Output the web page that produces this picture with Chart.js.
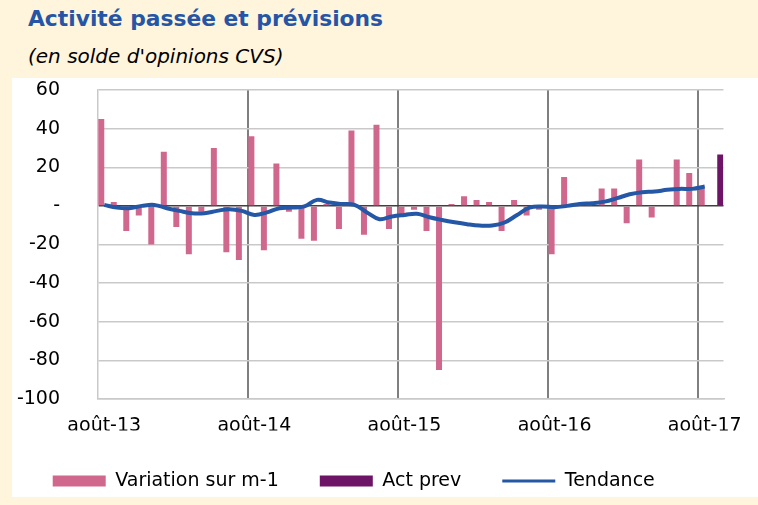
<!DOCTYPE html>
<html>
<head>
<meta charset="utf-8">
<script src="https://cdn.jsdelivr.net/npm/chart.js@4.4.1/dist/chart.umd.min.js"></script>
<style>
  html, body { margin: 0; padding: 0; }
  body { width: 758px; height: 505px; background: #FFF5DC; position: relative; overflow: hidden; font-family: 'DejaVu Sans', sans-serif; }
  #title { position: absolute; left: 28px; top: 8px; font-size: 21.8px; line-height: 1; font-weight: bold; color: #2655A5; white-space: nowrap; }
  #subtitle { position: absolute; left: 28px; top: 46px; font-size: 20px; line-height: 1; font-style: italic; color: #000; white-space: nowrap; }
  #panel { position: absolute; left: 12px; top: 78px; width: 746px; height: 419px; background: #FFFFFF; }
  #c { position: absolute; left: 0; top: 0; }
</style>
</head>
<body>
<div id="title">Activité passée et prévisions</div>
<div id="subtitle">(en solde d'opinions CVS)</div>
<div id="panel"></div>
<canvas id="c" width="758" height="505"></canvas>
<script>
const categories = [
  'août-13','sept-13','oct-13','nov-13','déc-13','janv-14','févr-14','mars-14','avr-14','mai-14','juin-14','juil-14',
  'août-14','sept-14','oct-14','nov-14','déc-14','janv-15','févr-15','mars-15','avr-15','mai-15','juin-15','juil-15',
  'août-15','sept-15','oct-15','nov-15','déc-15','janv-16','févr-16','mars-16','avr-16','mai-16','juin-16','juil-16',
  'août-16','sept-16','oct-16','nov-16','déc-16','janv-17','févr-17','mars-17','avr-17','mai-17','juin-17','juil-17',
  'août-17','sept-17'
];

const variation = [
  45, 2, -13, -5, -20, 28, -11, -25, -3, 30, -24, -28,
  36, -23, 22, -3, -17, -18, 1, -12, 39, -15, 42, -12,
  -5, -2, -13, -85, 1, 5, 3, 2, -13, 3, -5, -2,
  -25, 15, 1, 1, 9, 9, -9, 24, -6, 0, 24, 17,
  9, null
];

const actPrev = [
  null, null, null, null, null, null, null, null, null, null, null, null,
  null, null, null, null, null, null, null, null, null, null, null, null,
  null, null, null, null, null, null, null, null, null, null, null, null,
  null, null, null, null, null, null, null, null, null, null, null, null,
  null, 26.6
];

const tendance = [
  0.5, -0.9, -1.2, 0, 0.5, -1.2, -2.6, -3.8, -3.8, -2.6, -1.7, -2.6,
  -4.7, -3.4, -1.2, -0.9, -0.3, 3.1, 1.7, 1, 0.5, -3.4, -6.9, -5.5,
  -4.7, -4.1, -5.9, -7.3, -8.5, -9.5, -10.2, -10.2, -8.6, -4.7, -0.9, -0.3,
  -0.7, 0, 1, 1.4, 2.2, 4, 6, 7.1, 7.4, 8.3, 8.8, 8.8,
  10, null
];

const yTicks = [60, 40, 20, 0, -20, -40, -60, -80, -100];
const seriesNames = ['Variation sur m-1', 'Act prev', 'Tendance'];

Chart.defaults.font.family = "'DejaVu Sans', sans-serif";
Chart.defaults.font.size = 19;
Chart.defaults.color = '#000000';

const PINK = '#D0688E';
const PURPLE = '#6E1466';
const BLUE = '#2457A6';

new Chart(document.getElementById('c'), {
  type: 'bar',
  data: {
    labels: categories,
    datasets: [
      { type: 'bar', label: seriesNames[0], data: variation, backgroundColor: PINK, borderWidth: 0,
        categoryPercentage: 0.96, barPercentage: 1.0, order: 2 },
      { type: 'bar', label: seriesNames[1], data: actPrev, backgroundColor: PURPLE, borderWidth: 0,
        categoryPercentage: 0.96, barPercentage: 1.0, order: 3 },
      { type: 'line', label: seriesNames[2], data: tendance, borderColor: BLUE, backgroundColor: BLUE,
        borderWidth: 4, pointRadius: 0, tension: 0.4, fill: false, order: 1 }
    ]
  },
  options: {
    responsive: false,
    animation: false,
    devicePixelRatio: 1,
    layout: { padding: { left: -16, right: 34.5, top: 90, bottom: 4.5 } },
    plugins: {
      tooltip: { enabled: false },
      title: { display: false },
      legend: {
        position: 'bottom',
        labels: {
          usePointStyle: true,
          pointStyleWidth: 53,
          boxHeight: 11,
          padding: 41,
          color: '#000000',
          font: { size: 19 },
          sort: (a, b) => a.datasetIndex - b.datasetIndex,
          generateLabels: (chart) => {
            const items = Chart.defaults.plugins.legend.labels.generateLabels(chart);
            items.forEach(it => {
              if (it.datasetIndex === 2) {
                it.pointStyle = 'line';
                it.lineWidth = 3;
              } else {
                it.pointStyle = 'rect';
                it.lineWidth = 0;
              }
            });
            return items;
          }
        }
      }
    },
    scales: {
      x: {
        offset: true,
        grid: {
          offset: true,
          drawTicks: false,
          lineWidth: 2,
          color: (ctx) => {
            if (ctx.index === undefined || ctx.index === 0) return 'rgba(0,0,0,0)';
            const l = categories[ctx.index];
            return (l && l.startsWith('août')) ? '#7F7F7F' : 'rgba(0,0,0,0)';
          }
        },
        border: { display: true, color: '#C9C9C9', width: 1.5 },
        ticks: {
          autoSkip: false,
          maxRotation: 0,
          minRotation: 0,
          padding: 15.5,
          font: { size: 19 },
          callback: function (value) {
            const l = this.getLabelForValue(value);
            return l.startsWith('août') ? l : '';
          }
        },
        afterFit: (scale) => { scale.height = 31.5; }
      },
      y: {
        min: yTicks[yTicks.length - 1],
        max: yTicks[0],
        afterBuildTicks: (scale) => { scale.ticks = yTicks.map(v => ({ value: v })); },
        grid: {
          drawTicks: false,
          lineWidth: 1.5,
          color: (ctx) => (ctx.tick && ctx.tick.value === 0) ? '#404040' : '#C9C9C9'
        },
        border: { display: true, color: '#C9C9C9', width: 1.5 },
        ticks: {
          padding: 38,
          font: { size: 19 },
          callback: (v) => (v === 0 ? '-' : String(v))
        },
        afterFit: (scale) => { scale.width = 114; }
      }
    }
  }
});
</script>
</body>
</html>
